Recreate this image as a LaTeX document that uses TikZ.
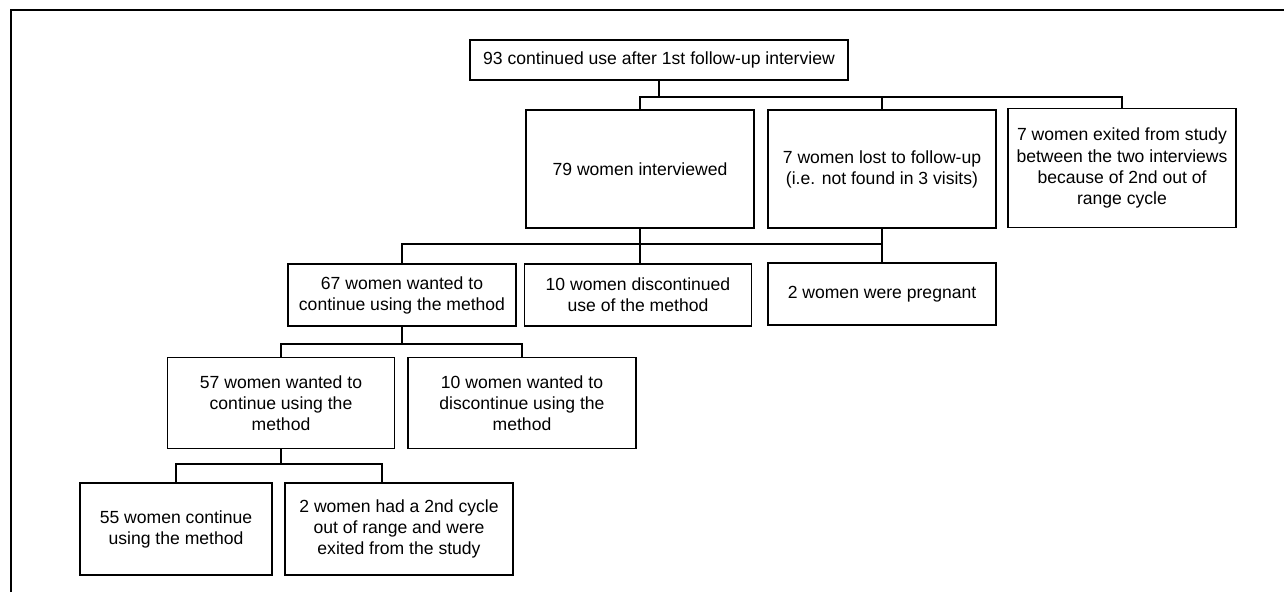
\documentclass[tikz,border=0pt]{standalone}
\usepackage{fontspec}
\setmainfont{Liberation Sans}
\begin{document}
\begin{tikzpicture}[x=0.02cm,y=-0.02cm,
		box/.style={draw,line width=1.1pt,align=center,inner sep=2pt,font=\fontsize{10}{12}\selectfont},
		link/.style={line width=1pt}]
		\useasboundingbox (0,0) rectangle (1284,592);
		\draw[line width=1.2pt] (11,592) -- (11,10) -- (1284,10);
		% first row
		\node[box,minimum width=7.56cm,minimum height=0.8cm] (top) at (659,60) {93 continued use after 1st follow-up interview};
		\node[box,minimum width=4.56cm,minimum height=2.36cm] (i79) at (640,169) {79 women interviewed};
		\node[box,minimum width=4.56cm,minimum height=2.36cm] (lost) at (882,169) {7 women lost to follow-up\\(i.e. not found in 3 visits)};
		\node[box,minimum width=4.56cm,minimum height=2.38cm] (exited) at (1122,168) {7 women exited from study\\between the two interviews\\because of 2nd out of\\range cycle};
		% second row
		\node[box,minimum width=4.56cm,minimum height=1.24cm] (c67) at (402,295) {67 women wanted to\\continue using the method};
		\node[box,minimum width=4.54cm,minimum height=1.24cm] (disc) at (638,295) {10 women discontinued\\use of the method};
		\node[box,minimum width=4.56cm,minimum height=1.24cm] (preg) at (882,294) {2 women were pregnant};
		\node[box,minimum width=4.54cm,minimum height=1.82cm] (c57) at (281,403) {57 women wanted to\\continue using the\\method};
		\node[box,minimum width=4.56cm,minimum height=1.82cm] (w10) at (522,403) {10 women wanted to\\discontinue using the\\method};
		\node[box,minimum width=3.84cm,minimum height=1.84cm] (c55) at (176,529) {55 women continue\\using the method};
		\node[box,minimum width=4.56cm,minimum height=1.84cm] (had2) at (399,529) {2 women had a 2nd cycle\\out of range and were\\exited from the study};
		\coordinate (bar1) at (0,97);
		\coordinate (bar2) at (0,244);
		\coordinate (bar3) at (0,344);
		\coordinate (bar4) at (382,464);
		% connectors
		\draw[link] (top.south) -- (top.south |- bar1);
		\draw[link] (i79.north) |- (exited.north |- bar1) -- (exited.north);
		\draw[link] (lost.north) -- (lost.north |- bar1);
		\draw[link] (i79.south) -- (i79.south |- disc.north);
		\draw[link] (lost.south) -- (lost.south |- preg.north);
		\draw[link] (c67.north) |- (lost.south |- bar2);
		\draw[link] (c67.south) -- (c67.south |- bar3);
		\draw[link] (c57.north) |- (w10.north |- bar3) -- (w10.north);
		\draw[link] (c57.south) -- (c57.south |- bar4);
		\draw[link] (c55.north) |- (bar4) -- (bar4 |- had2.north);
	\end{tikzpicture}
\end{document}
